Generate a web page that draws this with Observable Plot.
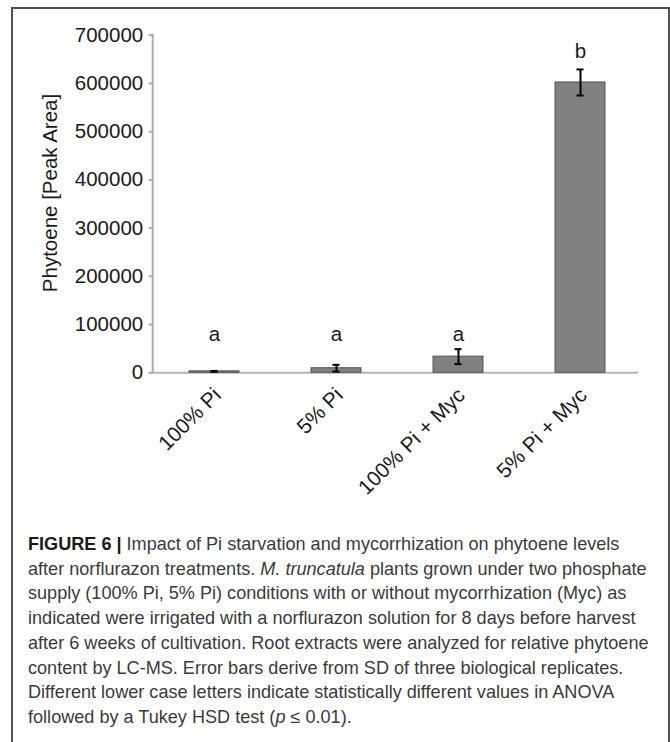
<!DOCTYPE html>
<html><head><meta charset="utf-8">
<script src="https://cdn.jsdelivr.net/npm/d3@7"></script>
<script src="https://cdn.jsdelivr.net/npm/@observablehq/plot@0.6"></script>
<style>
body{margin:0;background:#fff;width:670px;height:742px;position:relative;overflow:hidden;font-family:"Liberation Sans",Arial,sans-serif}
#frame{position:absolute;left:11px;top:7px;width:659px;height:800px;border:2px solid #505050;border-bottom:none;box-sizing:border-box}
#chart{position:absolute;left:0;top:0}
#caption{position:absolute;left:28px;top:532px;font-family:"Liberation Sans",Arial,sans-serif;font-size:18.1px;line-height:24.7px;color:#3a3a3a;white-space:nowrap}
#caption b{color:#1a1a1a}
</style></head>
<body>
<div id="frame"></div>
<div id="chart"></div>
<div id="caption">
<div><b>FIGURE 6 |</b> Impact of Pi starvation and mycorrhization on phytoene levels</div>
<div>after norflurazon treatments. <i>M. truncatula</i> plants grown under two phosphate</div>
<div>supply (100% Pi, 5% Pi) conditions with or without mycorrhization (Myc) as</div>
<div>indicated were irrigated with a norflurazon solution for 8 days before harvest</div>
<div>after 6 weeks of cultivation. Root extracts were analyzed for relative phytoene</div>
<div>content by LC-MS. Error bars derive from SD of three biological replicates.</div>
<div>Different lower case letters indicate statistically different values in ANOVA</div>
<div>followed by a Tukey HSD test (<i>p</i> ≤ 0.01).</div>
</div>
<script>
const categories = ["100% Pi", "5% Pi", "100% Pi + Myc", "5% Pi + Myc"];
const means = [3000, 9500, 33500, 602000];
const sds = [800, 7000, 15500, 27000];
const letters = ["a", "a", "a", "b"];
const letterY = [65000, 65000, 65000, 652000];
const yTicks = [0, 100000, 200000, 300000, 400000, 500000, 600000, 700000];
const yLabel = "Phytoene [Peak Area]";

const data = categories.map((c, i) => ({c, m: means[i], sd: sds[i], l: letters[i], ly: letterY[i]}));

const axisLine = (index, scales, values, dims) => {
  const y = scales.y;
  const l = document.createElementNS("http://www.w3.org/2000/svg", "line");
  l.setAttribute("x1", dims.marginLeft);
  l.setAttribute("x2", dims.marginLeft);
  l.setAttribute("y1", y(0) + 1);
  l.setAttribute("y2", y(700000) - 1);
  l.setAttribute("stroke", "#ababab");
  l.setAttribute("stroke-width", 2);
  return l;
};

const plot = Plot.plot({
  width: 670, height: 520,
  marginLeft: 152.7, marginRight: 29, marginTop: 34.7, marginBottom: 147.7,
  style: {fontFamily: "Liberation Sans, Arial, sans-serif", fontSize: "20.5px", color: "#1a1a1a", background: "transparent", overflow: "visible"},
  x: {domain: categories, paddingInner: 0.59, paddingOuter: 0.295, axis: null},
  y: {domain: [0, 700000], axis: null},
  marks: [
    Plot.axisY({ticks: yTicks, tickSize: 4, text: null, stroke: "#ababab", strokeWidth: 2, label: null}),
    Plot.axisY({ticks: yTicks, tickSize: 0, tickPadding: 10, tickFormat: d3.format("d"), fill: "#1a1a1a", label: null}),
    Plot.axisX({tickSize: 0, tickRotate: -45, tickPadding: 19, dx: 3, fill: "#1a1a1a", fontSize: 21, label: null}),
    Plot.ruleY([0], {stroke: "#b5b5b5", strokeWidth: 2, insetLeft: -4, insetRight: 3}),
    axisLine,
    Plot.barY(data, {x: "c", y: "m", fill: "#808080", stroke: "#555", strokeWidth: 1}),
    Plot.ruleX(data, {x: "c", y1: d => d.m - d.sd, y2: d => d.m + d.sd, stroke: "#000", strokeWidth: 2}),
    Plot.tickY(data, {x: "c", y: d => d.m + d.sd, insetLeft: 21.5, insetRight: 21.5, stroke: "#000", strokeWidth: 2}),
    Plot.tickY(data, {x: "c", y: d => d.m - d.sd, insetLeft: 21.5, insetRight: 21.5, stroke: "#000", strokeWidth: 2}),
    Plot.text(data, {x: "c", y: "ly", text: "l", lineAnchor: "bottom", fill: "#1a1a1a"}),
    Plot.text([yLabel], {frameAnchor: "left", textAnchor: "middle", rotate: -90, dx: -103, dy: -11, fill: "#1a1a1a"})
  ]
});
document.getElementById("chart").append(plot);
</script>
</body></html>
